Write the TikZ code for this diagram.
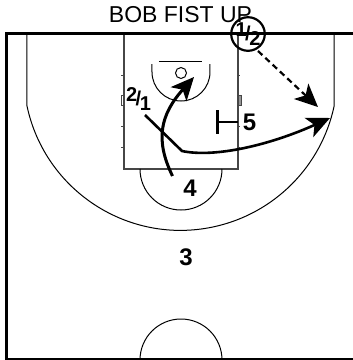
\documentclass[tikz,border=0pt]{standalone}
\usepackage{fontspec}
\setmainfont{Liberation Sans}
\usetikzlibrary{arrows.meta}
\definecolor{lanegray}{RGB}{70,70,70}
\definecolor{blockgray}{RGB}{150,150,150}

\begin{document}
\begin{tikzpicture}[x=1pt, y=1pt, >={Stealth[length=23pt,width=21pt,inset=6pt]}]
\tikzset{
  court/.style={line width=1pt, black},
  lane/.style={line width=1.2pt, lanegray},
  border/.style={line width=3.5pt, black},
  player/.style={font=\fontsize{24}{24}\selectfont\bfseries, inner sep=0pt},
  pair/.style={font=\fontsize{20}{20}\selectfont\bfseries, inner sep=0pt},
  cut/.style={->, line width=2.6pt, black}
}
\useasboundingbox (0,-360) rectangle (353,0);
\node[font=\fontsize{23}{23}\selectfont, inner sep=0pt] (title) at (180.5,-15) {BOB FIST UP};
% court
\draw[court] (27,-34) -- (27,-106) arc (192:348:157) -- (334,-34);
\draw[lane] (124,-34) -- (124,-169) -- (238,-169) -- (238,-34);
\draw[court] (140,-169) arc (180:360:41);
\draw[court] (140,-360) arc (180:0:41);
% basket
\draw[court] (159,-61.5) -- (202,-61.5);
\draw[court] (181,-73) circle (5.5);
\draw[court] (152,-64) -- (152,-72) arc (180:360:29) -- (210,-64);
% lane marks
\foreach \y in {75,126,147} {
  \draw[lane, line width=.8pt] (121.5,-\y) -- (124,-\y);
  \draw[lane, line width=.8pt] (238,-\y) -- (240.5,-\y);
}
\draw[lane, line width=.8pt] (121.5,-95) rectangle (124,-105);
\draw[lanegray, line width=.6pt, fill=blockgray] (238,-95) rectangle (241,-105);
\draw[border] (353,-33.5) -- (6.5,-33.5) -- (6.5,-359.5) -- (353,-359.5);
% players
\node[draw, circle, line width=2.2pt, minimum size=31pt, inner sep=0pt, pair] (p12) at (248,-34) {\raisebox{4.5pt}{1}\kern-1.5pt/\kern-1.5pt\raisebox{-4.5pt}{2}};
\node[pair] (p21) at (138.5,-99) {\raisebox{4.5pt}{2}\kern-1.5pt/\kern-1.5pt\raisebox{-4.5pt}{1}};
\node[player] (p5) at (249.5,-122.5) {5};
\node[player] (p4) at (190,-188.5) {4};
\node[player] (p3) at (186,-257) {3};
% screen
\coordinate (s5) at (217.5,-122);
\draw[line width=1.6pt] (s5) -- (238,-122);
\draw[line width=3.6pt] (217.5,-110) -- (217.5,-134);
% movement
\coordinate (p4a) at (172.5,-176);
\coordinate (rim) at (194,-77);
\coordinate (p2a) at (145,-115);
\coordinate (bend) at (182,-151);
\coordinate (wing) at (330,-118);
\coordinate (p1a) at (258,-51);
\coordinate (corner) at (318,-107);
\draw[cut, line width=3pt] (p4a) .. controls (155,-140) and (160,-115) .. (rim);
\draw[cut] (p2a) -- (bend) .. controls (215,-158) and (270,-145) .. (wing);
\draw[cut, line width=2.2pt, dashed, dash pattern=on 6pt off 4pt] (p1a) -- (corner);
\end{tikzpicture}
\end{document}
